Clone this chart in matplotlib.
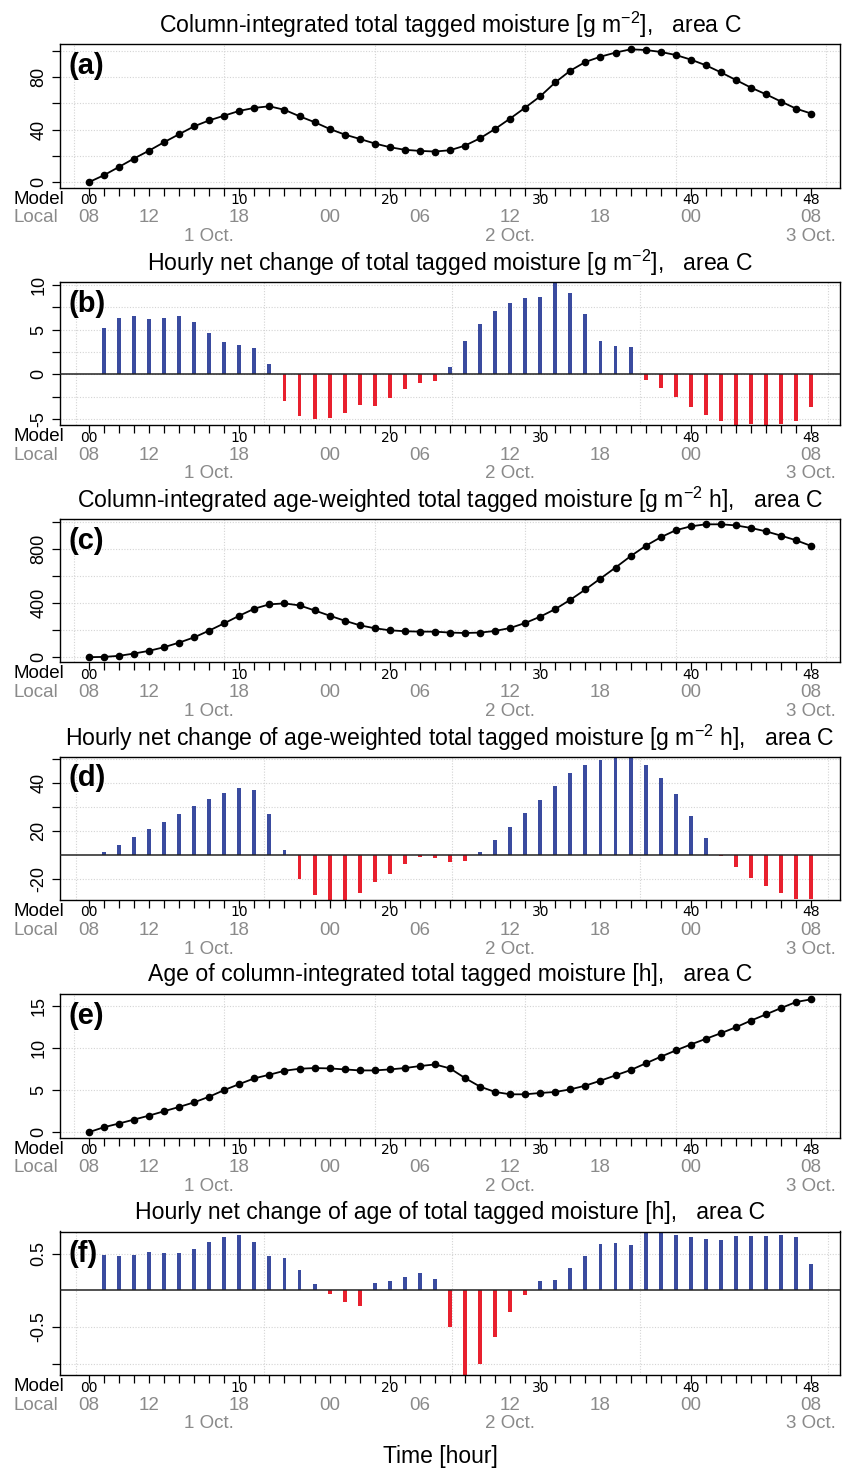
import numpy as np
import matplotlib.pyplot as plt

plt.rcParams['font.family'] = ['Liberation Sans', 'DejaVu Sans']
plt.rcParams['mathtext.fontset'] = 'custom'
plt.rcParams['mathtext.rm'] = 'Liberation Sans'
plt.rcParams['mathtext.it'] = 'Liberation Sans:italic'

hours = np.arange(49)
bar_hours = np.arange(1, 49)

# (a) column-integrated total tagged moisture [g m-2]
tagged = [0, 5.3, 11.6, 18, 24, 30.4, 36.5, 42.5, 47, 50.6, 54.2, 56.5, 57.7, 55, 50.1,
          45.6, 40.5, 36.2, 32.9, 29.4, 26.6, 24.6, 23.8, 23.3, 24.3, 27.8, 33.4, 40.5,
          48.4, 56.7, 65.3, 75.9, 84.8, 91.4, 95.4, 98.5, 101, 100.5, 99, 96.7, 93.2,
          88.9, 83.5, 77.7, 71.9, 66.8, 61.3, 55.9, 52.2]
# (b) hourly net change
d_tagged = [5.15, 6.27, 6.5, 6.16, 6.27, 6.5, 5.82, 4.59, 3.58, 3.25, 2.91, 1.12,
            -2.99, -4.66, -5.0, -4.89, -4.33, -3.43, -3.54, -2.65, -1.64, -0.97, -0.75,
            0.78, 3.73, 5.6, 7.05, 7.95, 8.5, 8.62, 10.37, 9.07, 6.72, 3.73, 3.13, 3.02,
            -0.63, -1.53, -2.54, -3.66, -4.55, -5.22, -5.67, -5.6, -5.67, -5.56, -5.22, -3.66]
# (c) age-weighted total tagged moisture [g m-2 h]
aged = [0, 2, 10, 27, 47, 74, 108, 147, 197, 251, 307, 359, 391, 398, 383, 346, 307,
        270, 236, 214, 199, 192, 189, 189, 182, 179, 182, 194, 216, 253, 300, 356, 425,
        501, 582, 663, 747, 823, 887, 939, 968, 983, 983, 975, 956, 931, 899, 865, 823]
# (d) hourly net change
d_aged = [2.5, 8.3, 15, 21.7, 27.5, 34.2, 40.8, 46.7, 51.7, 55.8, 54.2, 34.2, 4.2,
          -20, -33, -37.2, -37.2, -31.4, -22.2, -15.6, -7.2, -1.4, -2.2, -5.6, -4.7,
          2.5, 12.5, 23.3, 35, 45.8, 57.5, 68.3, 75, 79.4, 82.2, 82.2, 75, 64.2, 50.8,
          32.5, 14.2, -0.6, -9.7, -18.9, -25.6, -31.4, -36.4, -36.4]
# (e) age [h]
age = [0, 0.59, 1.03, 1.5, 1.97, 2.49, 3.0, 3.55, 4.22, 5.01, 5.72, 6.4, 6.83, 7.3,
       7.54, 7.62, 7.58, 7.46, 7.34, 7.34, 7.46, 7.62, 7.86, 8.05, 7.58, 6.43, 5.41,
       4.78, 4.5, 4.5, 4.66, 4.78, 5.09, 5.53, 6.12, 6.75, 7.38, 8.17, 8.96, 9.71,
       10.42, 11.09, 11.76, 12.47, 13.26, 14.0, 14.75, 15.47, 15.79]
# (f) hourly net change of age
d_age = [0.477, 0.464, 0.477, 0.518, 0.505, 0.505, 0.559, 0.655, 0.723, 0.75, 0.655,
         0.464, 0.436, 0.273, 0.082, -0.05, -0.159, -0.214, 0.095, 0.123, 0.177, 0.232,
         0.15, -0.5, -1.155, -1.005, -0.636, -0.295, -0.064, 0.123, 0.136, 0.3, 0.464,
         0.627, 0.641, 0.614, 0.8, 0.777, 0.75, 0.723, 0.695, 0.682, 0.736, 0.736,
         0.736, 0.75, 0.723, 0.355]

titles = [r'Column-integrated total tagged moisture [g m$^{-2}$],   area C',
          r'Hourly net change of total tagged moisture [g m$^{-2}$],   area C',
          r'Column-integrated age-weighted total tagged moisture [g m$^{-2}$ h],   area C',
          r'Hourly net change of age-weighted total tagged moisture [g m$^{-2}$ h],   area C',
          r'Age of column-integrated total tagged moisture [h],   area C',
          r'Hourly net change of age of total tagged moisture [h],   area C']
letters = ['(a)', '(b)', '(c)', '(d)', '(e)', '(f)']

model_pos = [0, 10, 20, 30, 40, 48]
model_lab = ['00', '10', '20', '30', '40', '48']
local_pos = [0, 4, 10, 16, 22, 28, 34, 40, 48]
local_lab = ['08', '12', '18', '00', '06', '12', '18', '00', '08']
date_pos = [8, 28, 48]
date_lab = ['1 Oct.', '2 Oct.', '3 Oct.']

W, H = 846, 1472
AX_H = 143.5
BLUE = '#3a4b9f'
RED = '#e8202e'
GREY = '#8a8a8a'
FS = 13.5

fig = plt.figure(figsize=(W / 100, H / 100), dpi=100)


def make_axes(top):
    return fig.add_axes([60 / W, 1 - (top + AX_H) / H, 780 / W, AX_H / H])


def decorate(ax, i, yticks, ylabels, vgrid):
    ax.set_xlim(-1.92, 49.92)
    ax.set_xticks(hours)
    ax.tick_params(axis='x', direction='out', length=6, width=0.9, labelbottom=False)
    ax.set_yticks(yticks)
    ax.set_yticklabels(ylabels, rotation=90, va='center', fontsize=13)
    ax.tick_params(axis='y', direction='out', length=6, width=0.9, pad=3)
    for s in ax.spines.values():
        s.set_linewidth(1.0)
    for y in yticks:
        ax.axhline(y, color='#d4d4d4', lw=0.8, ls=(0, (1, 1.5)), zorder=0)
    for x in vgrid:
        ax.axvline(x, color='#d4d4d4', lw=0.8, ls=(0, (1, 1.5)), zorder=0)
    ax.text(0.5, 1 + 19 / AX_H, titles[i], transform=ax.transAxes, ha='center',
            va='center', fontsize=16.6)
    ax.text(0.011, 1 - 22 / AX_H, letters[i], transform=ax.transAxes, ha='left',
            va='center', fontsize=21, fontweight='bold')
    tr = ax.get_xaxis_transform()
    ax.text((13 - 60) / 780, -11.5 / AX_H, 'Model', transform=ax.transAxes, ha='left',
            va='center', fontsize=FS)
    ax.text((13 - 60) / 780, -30.5 / AX_H, 'Local', transform=ax.transAxes, ha='left',
            va='center', fontsize=FS, color=GREY)
    for x, t in zip(model_pos, model_lab):
        ax.text(x, -12.5 / AX_H, t, transform=tr, ha='center', va='center',
                fontsize=10, family='DejaVu Sans')
    for x, t in zip(local_pos, local_lab):
        ax.text(x, -30.5 / AX_H, t, transform=tr, ha='center', va='center',
                fontsize=FS, color=GREY)
    for x, t in zip(date_pos, date_lab):
        ax.text(x, -49 / AX_H, t, transform=tr, ha='center', va='center',
                fontsize=FS, color=GREY)


def line_panel(i, values, yticks, ylabels):
    ax = make_axes(44 + 237.5 * i)
    ax.plot(hours, values, color='black', lw=1.3, marker='o', ms=4.5, zorder=3)
    lo, hi = min(values), max(values)
    pad = 0.04 * (hi - lo)
    ax.set_ylim(lo - pad, hi + pad)
    decorate(ax, i, yticks, ylabels, [-1, 9, 19, 29, 39, 49])
    return ax


def bar_panel(i, values, yticks, ylabels):
    ax = make_axes(44 + 237.5 * i)
    v = np.array(values)
    colors = [BLUE if x >= 0 else RED for x in v]
    ax.bar(bar_hours, v, width=0.26, color=colors, zorder=2)
    ax.set_ylim(v.min(), v.max())
    ax.axhline(0, color='#222222', lw=1.1, zorder=3)
    decorate(ax, i, yticks, ylabels, np.linspace(-0.85, 49.1, 5))
    return ax


line_panel(0, tagged, [0, 20, 40, 60, 80, 100], ['0', '', '40', '', '80', ''])
bar_panel(1, d_tagged, [-5, -2.5, 0, 2.5, 5, 7.5, 10], ['-5', '', '0', '', '5', '', '10'])
line_panel(2, aged, [0, 200, 400, 600, 800, 1000], ['0', '', '400', '', '800', ''])
bar_panel(3, d_aged, [-20, 20, 40, 60, 80], ['-20', '20', '', '40', ''])
line_panel(4, age, [0, 5, 10, 15], ['0', '5', '10', '15'])
bar_panel(5, d_age, [-1.0, -0.5, 0.5], ['', '-0.5', '0.5'])

fig.text(440 / W, 1 - 1457 / H, 'Time [hour]', ha='center', va='center', fontsize=16.5)

fig.savefig('out.png', dpi=100)
